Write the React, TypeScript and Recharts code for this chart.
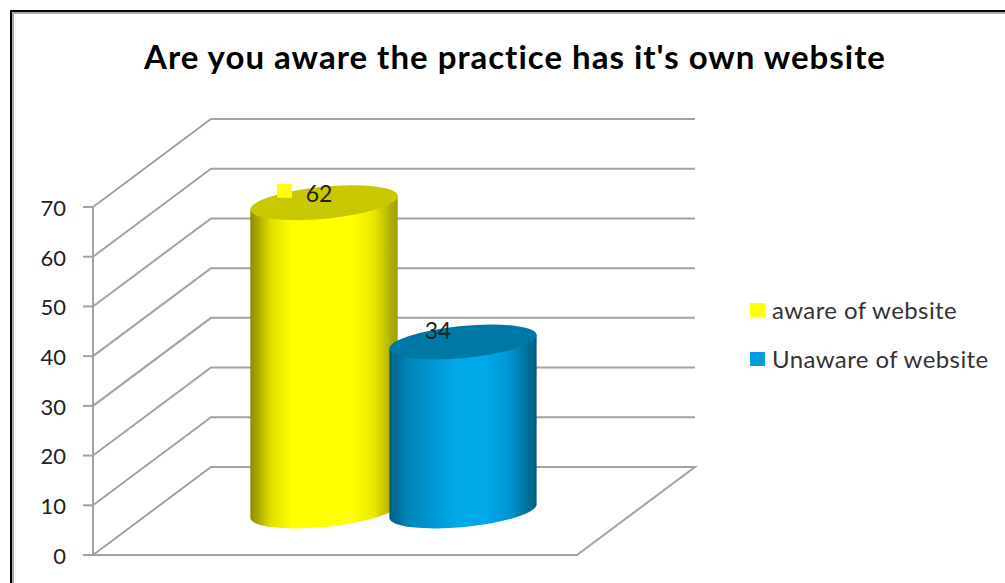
import { Bar, BarChart, CartesianGrid, LabelList, Legend, XAxis, YAxis } from "recharts";

const categories = ["Website"];
const awareValues = [62];
const unawareValues = [34];
const yTicks = [0, 10, 20, 30, 40, 50, 60, 70];

const chartData = categories.map((name, i) => ({
  name,
  aware: awareValues[i],
  unaware: unawareValues[i],
}));

const FONT = "Lato, 'Open Sans', sans-serif";
const GRID = "#a3a3a3";
// 3D look: the walls sit this far back from the front axis, bars stand half way
const WALL_X = 118;
const WALL_Y = -88;
const BAR_X = 58;
const BAR_Y = -44;
const ELLIPSE_RY = 16;
const TILT_DEG = -5.5;
const PLOT_BOTTOM = 555;

const gridLine = (props: any) => {
  const { x1, y1, x2, y2 } = props;
  const isFloor = y1 >= PLOT_BOTTOM - 1;
  const d = `M${x1},${y1} L${x1 + WALL_X},${y1 + WALL_Y} L${x2 + WALL_X},${y2 + WALL_Y}` +
    (isFloor ? ` L${x2},${y2} L${x1},${y1}` : "");
  return <path key={`grid-${y1}`} d={d} fill="none" stroke={GRID} strokeWidth={2} />;
};

const cylinder = (gradientId: string, topColor: string) => (props: any) => {
  const { x, y, width, height } = props;
  const cx = x + width / 2 + BAR_X;
  const top = y + BAR_Y;
  const bottom = y + height + BAR_Y;
  const rx = width / 2;
  const rad = (TILT_DEG * Math.PI) / 180;
  const dx = rx * Math.cos(rad);
  const dy = rx * Math.sin(rad);
  const body =
    `M${cx - dx},${top - dy} L${cx - dx},${bottom - dy} ` +
    `A${rx},${ELLIPSE_RY} ${TILT_DEG} 0 0 ${cx + dx},${bottom + dy} ` +
    `L${cx + dx},${top + dy} Z`;
  return (
    <g>
      <path d={body} fill={`url(#${gradientId})`} />
      <ellipse
        cx={cx}
        cy={top}
        rx={rx}
        ry={ELLIPSE_RY}
        fill={topColor}
        transform={`rotate(${TILT_DEG} ${cx} ${top})`}
      />
    </g>
  );
};

const barLabel = (offsetX: number, offsetY: number, marker?: string) => (props: any) => {
  const { x, y, width, value } = props;
  const tx = x + width / 2 + BAR_X + offsetX;
  const ty = y + BAR_Y + offsetY;
  return (
    <g>
      {marker && <rect x={tx - 42} y={ty - 9} width={15} height={14} fill={marker} />}
      <text
        x={tx}
        y={ty}
        textAnchor="middle"
        dominantBaseline="central"
        fontFamily={FONT}
        fontSize={23}
        fill="#222"
      >
        {value}
      </text>
    </g>
  );
};

const renderLegend = (props: any) => (
  <div style={{ fontFamily: FONT, fontSize: 24, letterSpacing: 0.4, color: "#333" }}>
    {props.payload.map((item: any) => (
      <div key={item.value} style={{ display: "flex", alignItems: "center", height: 49 }}>
        <span
          style={{ width: 15, height: 14, background: item.color, marginRight: 7, flex: "none" }}
        />
        <span style={{ whiteSpace: "nowrap" }}>{item.value}</span>
      </div>
    ))}
  </div>
);

export default function App() {
  return (
    <div
      style={{
        position: "absolute",
        left: 0,
        top: 0,
        width: 1005,
        height: 583,
        overflow: "hidden",
        background: "#fff",
      }}
    >
      <div
        style={{
          position: "absolute",
          left: 10,
          top: 10,
          width: 1100,
          height: 640,
          borderLeft: "2px solid #000",
          borderTop: "2px solid #000",
        }}
      >
        <div
          style={{
            width: "100%",
            height: "100%",
            borderLeft: "2px solid #aaa",
            borderTop: "2px solid #aaa",
          }}
        />
      </div>
      <div
        style={{
          position: "absolute",
          left: 0,
          width: 1030,
          top: 35,
          textAlign: "center",
          fontFamily: FONT,
          fontWeight: 700,
          fontSize: 33,
          letterSpacing: 1,
          lineHeight: "42px",
          color: "#000",
          whiteSpace: "nowrap",
        }}
      >
        Are you aware the practice has it's own website
      </div>
      <BarChart
        width={1005}
        height={583}
        data={chartData}
        barSize={148}
        barGap={-9}
        margin={{ top: 207, right: 428, bottom: 28, left: 33 }}
        style={{ position: "absolute", left: 0, top: 0 }}
      >
        <defs>
          <linearGradient id="yellowBody" x1="0" y1="0" x2="1" y2="0">
            <stop offset="0%" stopColor="#8a8a00" />
            <stop offset="14%" stopColor="#e0e000" />
            <stop offset="28%" stopColor="#ffff00" />
            <stop offset="70%" stopColor="#ffff00" />
            <stop offset="84%" stopColor="#e8e800" />
            <stop offset="100%" stopColor="#9a9a00" />
          </linearGradient>
          <linearGradient id="blueBody" x1="0" y1="0" x2="1" y2="0">
            <stop offset="0%" stopColor="#005f88" />
            <stop offset="12%" stopColor="#0085b8" />
            <stop offset="30%" stopColor="#0098d4" />
            <stop offset="45%" stopColor="#00a8e8" />
            <stop offset="65%" stopColor="#00a8e8" />
            <stop offset="80%" stopColor="#0098d8" />
            <stop offset="100%" stopColor="#005f80" />
          </linearGradient>
        </defs>
        <CartesianGrid vertical={false} horizontal={gridLine} syncWithTicks />
        <XAxis dataKey="name" tick={false} height={0} axisLine={false} tickLine={false} />
        <YAxis
          width={60}
          domain={[0, 70]}
          ticks={yTicks}
          interval={0}
          tickSize={10}
          tickMargin={17}
          axisLine={{ stroke: GRID, strokeWidth: 2 }}
          tickLine={{ stroke: GRID, strokeWidth: 2 }}
          tick={{ fontFamily: FONT, fontSize: 22, fill: "#222", dy: 1 }}
        />
        <Legend
          layout="vertical"
          align="center"
          verticalAlign="middle"
          itemSorter={null}
          content={renderLegend}
          wrapperStyle={{ left: 750, top: 285, width: 250 }}
        />
        <Bar
          dataKey="aware"
          name="aware of website"
          fill="#ffff00"
          isAnimationActive={false}
          shape={cylinder("yellowBody", "#c8c800")}
        >
          <LabelList dataKey="aware" content={barLabel(-5, -10, "#ffff00")} />
        </Bar>
        <Bar
          dataKey="unaware"
          name="Unaware of website"
          fill="#009ddc"
          isAnimationActive={false}
          shape={cylinder("blueBody", "#0078a6")}
        >
          <LabelList dataKey="unaware" content={barLabel(-25, -12)} />
        </Bar>
      </BarChart>
    </div>
  );
}
